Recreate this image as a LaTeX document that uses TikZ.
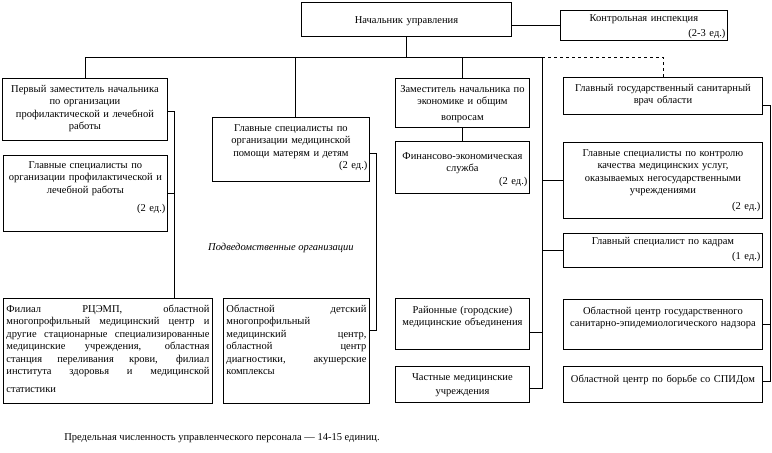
\documentclass[tikz,border=0pt]{standalone}
\usepackage{fontspec}
\setmainfont{Liberation Serif}
\usetikzlibrary{calc}

\begin{document}
\begin{tikzpicture}[x=1pt, y=-1pt, line width=0.9pt,
    every node/.style={font=\fontsize{10.5}{12.5}\selectfont},
    orgbox/.style={draw, anchor=north west, align=center, inner sep=2pt, text height=12pt},
    listbox/.style={draw, anchor=north west, align=justify, inner xsep=3pt, inner ysep=2pt, text height=12pt}]
    \useasboundingbox (0,0) rectangle (772,453);
    % head and control
    \node[orgbox, text width=206pt, text height=19pt, text depth=11pt] (top) at (301,2) {Начальник управления};
    \node[orgbox, text width=163pt, text height=9pt, text depth=17pt] (ctrl) at (560,10)
        {Контрольная инспекция\\[2.5pt] \hspace*{\fill}(2-3 ед.)\hspace*{1pt}};
    % left column
    \node[orgbox, text width=161pt, text depth=46pt] (fd) at (2,78)
        {Первый заместитель начальника\\ по организации\\ профилактической и лечебной\\ работы};
    \node[orgbox, text width=160pt, text height=11pt, text depth=61pt] (sp) at (3,155)
        {Главные специалисты по\\ организации профилактической и\\ лечебной работы\\[6pt] \hspace*{\fill}(2 ед.)\hspace*{8pt}};
    % middle column
    \node[orgbox, text width=153pt, text depth=48pt] (mc) at (212,117)
        {Главные специалисты по\\ организации медицинской\\ помощи матерям и детям\\ \hspace*{\fill}(2 ед.)\hspace*{2pt}};
    \node[orgbox, text width=130pt, text depth=33pt] (zam) at (395,78)
        {Заместитель начальника по\\ экономике и общим\\[3pt] вопросам};
    \node[orgbox, text width=130pt, text height=16pt, text depth=32pt] (fin) at (395,141)
        {Финансово-экономическая\\ служба\\ \hspace*{\fill}(2 ед.)\hspace*{7pt}};
    \node[orgbox, text width=130pt, text height=13pt, text depth=34pt] (rayon) at (395,298)
        {Районные (городские)\\ медицинские объединения};
    \node[orgbox, text width=130pt, text depth=20pt] (chast) at (395,366)
        {Частные медицинские\\[1.5pt] учреждения};
    % right column
    \node[orgbox, text width=195pt, text depth=21pt] (sanvrach) at (563,77)
        {Главный государственный санитарный\\ врач области};
    \node[orgbox, text width=195pt, text depth=60pt] (kontrol) at (563,142)
        {Главные специалисты по контролю\\ качества медицинских услуг,\\ оказываемых негосударственными\\ учреждениями\\[3pt] \hspace*{\fill}(2 ед.)\hspace*{7pt}};
    \node[orgbox, text width=195pt, text height=9pt, text depth=21pt] (kadry) at (563,233)
        {Главный специалист по кадрам\\[2.5pt] \hspace*{\fill}(1 ед.)\hspace*{7pt}};
    \node[orgbox, text width=195pt, text height=13pt, text depth=33pt] (nadzor) at (563,299)
        {Областной центр государственного\\ санитарно-эпидемиологического надзора};
    \node[orgbox, text width=195pt, text height=14pt, text depth=18pt] (spid) at (563,366)
        {Областной центр по борьбе со СПИДом};
    % subordinate organisations
    \node[listbox, text width=203pt, text depth=89pt] (fil) at (3,298)
        {Филиал РЦЭМП, областной\linebreak многопрофильный медицинский центр и\linebreak
         другие стационарные специализированные\linebreak медицинские учреждения, областная\linebreak
         станция переливания крови, филиал\linebreak института здоровья и медицинской\vadjust{\vskip 5pt}\linebreak статистики};
    \node[listbox, text width=140pt, text depth=89pt] (det) at (223,298)
        {Областной детский\linebreak многопрофильный\linebreak медицинский центр,\linebreak
         областной центр\linebreak диагностики, акушерские\linebreak комплексы};
    \node[font=\fontsize{10.5}{12.5}\selectfont\itshape] (podved) at (281,248) {Подведомственные организации};
    \node (itog) at (222,438) {Предельная численность управленческого персонала — 14-15 единиц.};
    % spines
    \coordinate (bus) at (0,57);
    \coordinate (lspine) at (174,0);
    \coordinate (rspine) at (542,57);
    \coordinate (ospine) at (770,0);
    \coordinate (fdout) at ([yshift=-33pt]fd.north east);
    \coordinate (mcout) at ([yshift=-36pt]mc.north east);
    \coordinate (detin) at ([yshift=-32pt]det.north east);
    \coordinate (rayonout) at ([yshift=-8.5pt]rayon.east);
    \coordinate (chastout) at ([yshift=-4pt]chast.east);
    \coordinate (svout) at ([yshift=-9.5pt]sanvrach.east);
    \coordinate (spidin) at ([yshift=3pt]spid.east);
    % connectors from the head
    \draw (top.east |- ctrl.west) -- (ctrl.west);
    \draw (top.south) -- (top.south |- bus);
    \draw (fd.north |- bus) -- (rspine);
    \draw (fd.north) -- (fd.north |- bus);
    \draw ([xshift=4.5pt]mc.north) -- ([xshift=4.5pt]mc.north |- bus);
    \draw (zam.north) -- (zam.north |- bus);
    \draw[dashed] (rspine) -| (sanvrach.north);
    % left and middle
    \draw (fdout) -| (lspine |- fil.north);
    \draw (sp.east) -- (sp.east -| lspine);
    \draw (mcout) -| (mcout -| 376,0) |- (detin);
    \draw (zam.south) -- (fin.north);
    % right spine
    \draw (rspine) -- (rspine |- chastout) -- (chastout);
    \draw (rayonout) -- (rayonout -| rspine);
    \draw (kontrol.west -| rspine) -- (kontrol.west);
    \draw (kadry.west -| rspine) -- (kadry.west);
    % outer spine
    \draw (svout) -| (ospine |- spidin) -- (spidin);
    \draw (nadzor.east) -- (nadzor.east -| ospine);
\end{tikzpicture}
\end{document}
